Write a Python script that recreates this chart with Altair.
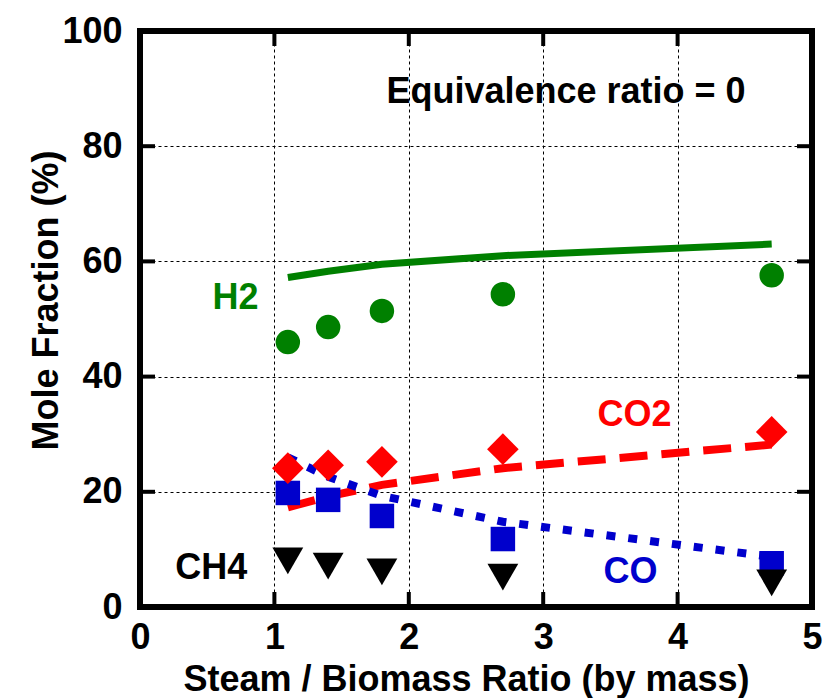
import altair as alt
import pandas as pd

# ---- data ----
x_exp = [1.1, 1.4, 1.8, 2.7, 4.7]
h2_exp = [46.0, 48.6, 51.4, 54.3, 57.6]
co2_exp = [24.1, 24.6, 25.2, 27.4, 30.4]
co_exp = [19.8, 18.6, 15.8, 11.8, 7.6]
ch4_exp = [8.0, 7.1, 6.1, 5.2, 4.2]

x_model = [1.1, 1.4, 1.8, 2.7, 4.7]
h2_model = [57.2, 58.3, 59.5, 61.0, 63.0]
co2_model = [17.3, 19.2, 21.2, 24.1, 28.2]
co_model = [26.0, 22.6, 19.3, 14.8, 8.7]

x_ticks = [0, 1, 2, 3, 4, 5]
y_ticks = [0, 20, 40, 60, 80, 100]
inner_x_ticks = [1, 2, 3, 4]
inner_y_ticks = [20, 40, 60, 80]

label_text = ["H2", "CO2", "CO", "CH4"]
label_x = [0.71, 3.68, 3.65, 0.53]
label_y = [53.6, 33.3, 6.1, 6.8]
label_color = ["#008000", "#ff0000", "#0000cc", "#000000"]

note_text = ["Equivalence ratio = 0"]
note_x = [3.17]
note_y = [89.4]

FONT = "Liberation Sans"
GREEN, RED, BLUE, BLACK = "#008000", "#ff0000", "#0000cc", "#000000"

W, H = 672, 576

xs = alt.Scale(domain=[0, 5], nice=False, zero=False)
ys = alt.Scale(domain=[0, 100], nice=False, zero=False)

common_axis = dict(
    grid=True, gridDash=[3, 3], gridColor="black", gridWidth=1, gridOpacity=1,
    domain=False, ticks=False, tickSize=0,
    labelFont=FONT, labelFontSize=36, labelFontWeight="bold", labelColor="black",
    titleFont=FONT, titleFontSize=36, titleFontWeight="bold", titleColor="black",
    labelFlush=False, labelOverlap=False, format="d",
)

xaxis = alt.Axis(values=x_ticks, title="Steam / Biomass Ratio (by mass)",
                 labelPadding=13, titleX=326, titleY=83,
                 titleBaseline="alphabetic", titleAlign="center", **common_axis)
yaxis = alt.Axis(values=y_ticks, title="Mole Fraction (%)",
                 labelPadding=18, titleAngle=270, titleX=-83, titleY=269,
                 titleBaseline="alphabetic", titleAlign="center", **common_axis)


def X(field):
    return alt.X(f"{field}:Q", scale=xs, axis=xaxis)


def Y(field):
    return alt.Y(f"{field}:Q", scale=ys, axis=yaxis)


df_exp = pd.DataFrame({"x": x_exp, "h2": h2_exp, "co2": co2_exp, "co": co_exp, "ch4": ch4_exp})
df_model = pd.DataFrame({"x": x_model, "h2": h2_model, "co2": co2_model, "co": co_model})

# model lines
h2_line = alt.Chart(df_model).mark_line(color=GREEN, strokeWidth=7, strokeCap="butt").encode(
    x=X("x"), y=Y("h2"))
co2_line = alt.Chart(df_model).mark_line(color=RED, strokeWidth=8, strokeDash=[28, 14], strokeCap="butt").encode(
    x=X("x"), y=Y("co2"))
co_line = alt.Chart(df_model).mark_line(color=BLUE, strokeWidth=8, strokeDash=[9, 13], strokeCap="butt").encode(
    x=X("x"), y=Y("co"))


def pts(field, shape, size, color):
    return alt.Chart(df_exp).mark_point(shape=shape, size=size, filled=True, color=color,
                                        opacity=1, strokeWidth=0).encode(x=X("x"), y=Y(field))


h2_pts = pts("h2", "circle", 600, GREEN)
co_pts = pts("co", "square", 600, BLUE)
co2_pts = pts("co2", "diamond", 1000, RED)
ch4_pts = pts("ch4", "triangle-down", 950, BLACK)

# inward ticks on all four sides
df_tx = pd.DataFrame({"v": inner_x_ticks})
df_ty = pd.DataFrame({"v": inner_y_ticks})
tick_style = dict(color="black", strokeWidth=4)
t_bottom = alt.Chart(df_tx).mark_rule(**tick_style).encode(
    x=X("v"), y=alt.value(H), y2=alt.value(H - 15))
t_top = alt.Chart(df_tx).mark_rule(**tick_style).encode(
    x=X("v"), y=alt.value(0), y2=alt.value(15))
t_left = alt.Chart(df_ty).mark_rule(**tick_style).encode(
    y=Y("v"), x=alt.value(0), x2=alt.value(15))
t_right = alt.Chart(df_ty).mark_rule(**tick_style).encode(
    y=Y("v"), x=alt.value(W), x2=alt.value(W - 15))

# labels
df_lab = pd.DataFrame({"t": label_text, "x": label_x, "y": label_y, "c": label_color})
labels = alt.Chart(df_lab).mark_text(font=FONT, fontSize=36, fontWeight="bold",
                                     align="center", baseline="middle").encode(
    x=X("x"), y=Y("y"), text="t:N", color=alt.Color("c:N", scale=None))

df_note = pd.DataFrame({"t": note_text, "x": note_x, "y": note_y})
note = alt.Chart(df_note).mark_text(font=FONT, fontSize=36, fontWeight="bold", color="black",
                                    align="center", baseline="middle").encode(
    x=X("x"), y=Y("y"), text="t:N")

chart = alt.layer(
    h2_line, co2_line, co_line,
    t_bottom, t_top, t_left, t_right,
    h2_pts, co_pts, co2_pts, ch4_pts,
    labels, note,
).properties(
    width=W, height=H,
    padding={"left": 140, "top": 31, "right": 26, "bottom": 91},
    autosize=alt.AutoSizeParams(type="none"),
    background="white",
).configure_view(stroke="black", strokeWidth=6)

chart.save("out.html", embed_options={"renderer": "svg", "actions": False})
